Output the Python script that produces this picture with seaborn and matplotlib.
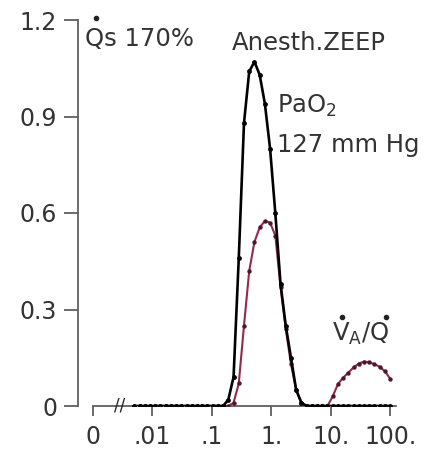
import numpy as np
import pandas as pd
import seaborn as sns
import matplotlib.pyplot as plt
from matplotlib.lines import Line2D

# VA/Q compartments (log spaced, 0.005 .. 100)
vaq = [0.00500, 0.00612, 0.00749, 0.00917, 0.01122, 0.01373, 0.01681, 0.02057,
       0.02518, 0.03083, 0.03773, 0.04618, 0.05653, 0.06918, 0.08468, 0.1036,
       0.1269, 0.1553, 0.1901, 0.2326, 0.2847, 0.3485, 0.4266, 0.5222,
       0.6391, 0.7822, 0.9574, 1.172, 1.435, 1.756, 2.149, 2.630,
       3.220, 3.940, 4.823, 5.904, 7.226, 8.845, 10.83, 13.25,
       16.22, 19.85, 24.30, 29.74, 36.40, 44.55, 54.53, 66.74,
       81.69, 100.0]

# blood flow (black)
perfusion = [0, 0, 0, 0, 0, 0, 0, 0, 0, 0, 0, 0, 0, 0, 0, 0,
             0, 0.0, 0.02, 0.09, 0.46, 0.88, 1.04, 1.07,
             1.03, 0.94, 0.80, 0.60, 0.38, 0.25, 0.15, 0.05,
             0.01, 0, 0, 0, 0, 0, 0, 0,
             0, 0, 0, 0, 0, 0, 0, 0,
             0, 0]

# ventilation (red)
ventilation = [0, 0, 0, 0, 0, 0, 0, 0, 0, 0, 0, 0, 0, 0, 0, 0,
               0, 0, 0, 0.01, 0.07, 0.25, 0.42, 0.51,
               0.555, 0.575, 0.57, 0.53, 0.37, 0.24, 0.13, 0.05,
               0.01, 0, 0, 0, 0, 0, 0.03, 0.068,
               0.088, 0.104, 0.12, 0.132, 0.138, 0.136, 0.13, 0.122,
               0.108, 0.085]

xticks = [0.001, 0.01, 0.1, 1, 10, 100]
xticklabels = ['0', '.01', '.1', '1.', '10.', '100.']
yticks = [0, 0.3, 0.6, 0.9, 1.2]
yticklabels = ['0', '0.3', '0.6', '0.9', '1.2']

df = pd.DataFrame({'vaq': vaq, 'Q': perfusion, 'VA': ventilation})

sns.set_style('ticks')
plt.rcParams['font.family'] = ['DejaVu Sans']
plt.rcParams['mathtext.fontset'] = 'dejavusans'

W, H = 424, 453
fig = plt.figure(figsize=(W / 100, H / 100), dpi=100)
ax = fig.add_axes([78 / W, 1 - 406 / H, (402 - 78) / W, 386 / H])

txt = '#333333'
axc = '#5f5f5f'
red = '#93294f'

sns.lineplot(data=df, x='vaq', y='VA', ax=ax, color=red, lw=1.5,
             estimator=None, sort=False, zorder=2)
sns.scatterplot(data=df, x='vaq', y='VA', ax=ax, color='#4e1828', s=10,
                linewidth=0, zorder=3)
sns.lineplot(data=df, x='vaq', y='Q', ax=ax, color='black', lw=1.9,
             estimator=None, sort=False, zorder=4)
sns.scatterplot(data=df, x='vaq', y='Q', ax=ax, color='black', s=12,
                linewidth=0, zorder=5)

ax.set_xscale('log')
ax.set_xlim(10 ** -3.25, 10 ** 2.2)
ax.set_ylim(0, 1.2)
ax.set_xticks(xticks)
ax.set_xticklabels(xticklabels)
ax.minorticks_off()
ax.set_yticks(yticks)
ax.set_yticklabels(yticklabels)
ax.set_xlabel('')
ax.set_ylabel('')

for s in ['top', 'right']:
    ax.spines[s].set_visible(False)
ax.spines['left'].set_bounds(0, 1.2)
ax.spines['bottom'].set_bounds(0.001, 125)
for s in ['left', 'bottom']:
    ax.spines[s].set_color(axc)
    ax.spines[s].set_linewidth(1.3)
ax.tick_params(axis='y', length=10, width=1.3, color=axc, pad=5,
               labelsize=17, labelcolor=txt)
ax.tick_params(axis='x', length=7, width=1.3, color=axc, pad=7,
               labelsize=17, labelcolor=txt)
ax.spines['bottom'].set_zorder(1)

# axis break mark
ax.text(0.0028, 0, '//', ha='center', va='center', fontsize=12, color='#222222',
        zorder=6)

# annotations
def ftext(px, py, s, size=17.5, **kw):
    fig.text(px / W, 1 - py / H, s, color=txt, fontsize=size,
             va='baseline', ha='left', **kw)

def fdot(px, py):
    fig.add_artist(Line2D([px / W], [1 - py / H], marker='o', markersize=3.0,
                          color='#222222', linestyle='none',
                          transform=fig.transFigure))

ftext(85, 46, 'Qs 170%')
fdot(96, 18)
ftext(232, 50, 'Anesth.ZEEP')
ftext(277, 113, r'PaO$_2$')
ftext(277, 152, '127 mm Hg')
ftext(332, 341, r'V$_\mathrm{A}$/Q')
fdot(342, 317)
fdot(386, 317)

fig.savefig('out.png', dpi=100)
